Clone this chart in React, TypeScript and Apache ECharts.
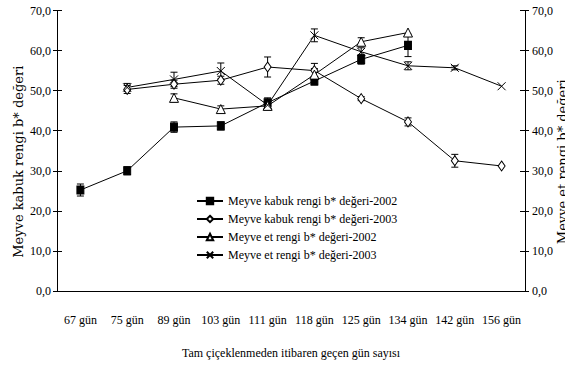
import React, { useEffect, useRef } from "react";
import * as echarts from "echarts";

const categories = ["67 gün", "75 gün", "89 gün", "103 gün", "111 gün", "118 gün", "125 gün", "134 gün", "142 gün", "156 gün"];

const seriesNames = [
  "Meyve kabuk rengi b* değeri-2002",
  "Meyve kabuk rengi b* değeri-2003",
  "Meyve et rengi b* değeri-2002",
  "Meyve et rengi b* değeri-2003",
];

const kabuk2002 = [25.2, 30.0, 40.9, 41.2, 47.0, 52.4, 57.8, 61.3, null, null];
const kabuk2003 = [null, 50.3, 51.6, 52.6, 55.9, 55.0, 48.0, 42.2, 32.5, 31.2];
const et2002 = [null, null, 48.2, 45.4, 46.2, 54.0, 62.2, 64.5, null, null];
const et2003 = [null, 50.8, 52.8, 54.9, 46.4, 63.8, 59.7, 56.2, 55.7, 51.1];

const kabuk2002Err = [1.5, 1.0, 1.3, 1.0, 1.2, 1.0, 1.2, 2.8, null, null];
const kabuk2003Err = [null, 1.0, 1.0, 1.0, 2.5, 1.8, 0.5, 1.0, 1.6, 0];
const et2002Err = [null, null, 1.0, 0.8, 1.0, 1.5, 1.0, 0, null, null];
const et2003Err = [null, 1.0, 1.8, 2.0, 1.0, 1.6, 1.0, 1.0, 0.5, 0];

const yTicks = { min: 0, max: 70, interval: 10 };

const FONT = "Liberation Serif";

function errData(vals: (number | null)[], errs: (number | null)[]) {
  const out: number[][] = [];
  vals.forEach((v, i) => {
    const e = errs[i];
    if (v != null && e != null && e > 0) out.push([i, v - e, v + e]);
  });
  return out;
}

function errSeries(vals: (number | null)[], errs: (number | null)[]) {
  return {
    type: "custom",
    xAxisIndex: 0,
    yAxisIndex: 0,
    z: 1,
    silent: true,
    data: errData(vals, errs),
    renderItem: (params: any, api: any) => {
      const x = api.value(0);
      const lo = api.coord([x, api.value(1)]);
      const hi = api.coord([x, api.value(2)]);
      const hw = 3.5;
      const style = { stroke: "#000", lineWidth: 1 };
      return {
        type: "group",
        children: [
          { type: "line", shape: { x1: lo[0], y1: lo[1], x2: hi[0], y2: hi[1] }, style },
          { type: "line", shape: { x1: lo[0] - hw, y1: lo[1], x2: lo[0] + hw, y2: lo[1] }, style },
          { type: "line", shape: { x1: hi[0] - hw, y1: hi[1], x2: hi[0] + hw, y2: hi[1] }, style },
        ],
      };
    },
  };
}

function lineSeries(name: string, data: (number | null)[], symbol: string, symbolSize: any, fill: string) {
  return {
    name,
    type: "line",
    xAxisIndex: 0,
    yAxisIndex: 0,
    z: 3,
    data,
    symbol,
    symbolSize,
    showAllSymbol: true,
    connectNulls: false,
    lineStyle: { color: "#000", width: 1 },
    itemStyle: { color: fill, borderColor: "#000", borderWidth: 1 },
  };
}

export default function App() {
  const ref = useRef<HTMLDivElement>(null);
  useEffect(() => {
    if (!ref.current) return;
    const chart = echarts.init(ref.current, null, { renderer: "svg" });
    const fmt = (v: number) => v.toFixed(1).replace(".", ",");
    const labelStyle = { color: "#000", fontFamily: FONT, fontSize: 12 };
    const yBase = {
      type: "value",
      min: yTicks.min,
      max: yTicks.max,
      interval: yTicks.interval,
      splitLine: { show: false },
    };
    chart.setOption({
      animation: false,
      backgroundColor: "#fff",
      grid: { left: 57, right: 40, top: 10.5, bottom: 79, containLabel: false, outerBoundsMode: "none" },
      legend: {
        orient: "vertical",
        left: 191,
        top: 190,
        itemWidth: 26,
        itemHeight: 8,
        itemGap: 6,
        textStyle: { color: "#000", fontFamily: FONT, fontSize: 12 },
        data: seriesNames,
      },
      xAxis: [
        {
          type: "category",
          position: "bottom",
          data: categories,
          boundaryGap: true,
          axisLine: { lineStyle: { color: "#000", width: 1 } },
          axisTick: { length: 4, lineStyle: { color: "#000" } },
          axisLabel: { ...labelStyle, margin: 23, interval: 0 },
          name: "Tam çiçeklenmeden itibaren geçen gün sayısı",
          nameLocation: "middle",
          nameGap: 56,
          nameMoveOverlap: false,
          nameTextStyle: { color: "#000", fontFamily: FONT, fontSize: 12 },
        },
        {
          type: "category",
          position: "bottom",
          data: categories,
          boundaryGap: true,
          axisLine: { show: false },
          axisTick: { inside: true, length: 5, lineStyle: { color: "#000" } },
          axisLabel: { show: false },
        },
      ],
      yAxis: [
        {
          ...yBase,
          position: "left",
          axisLine: { show: true, lineStyle: { color: "#000" } },
          axisTick: { show: true, length: 4, lineStyle: { color: "#000" } },
          axisLabel: { ...labelStyle, margin: 6, formatter: fmt },
          name: "Meyve kabuk rengi b* değeri",
          nameLocation: "middle",
          nameGap: 32,
          nameRotate: 90,
          nameMoveOverlap: false,
          nameTextStyle: { color: "#000", fontFamily: "DejaVu Serif", fontSize: 13, padding: [0, 22, 0, 0] },
        },
        {
          ...yBase,
          position: "right",
          axisLine: { show: true, lineStyle: { color: "#000" } },
          axisTick: { show: true, length: 4, lineStyle: { color: "#000" } },
          axisLabel: { ...labelStyle, margin: 7, formatter: fmt },
          name: "Meyve et rengi b* değeri",
          nameLocation: "middle",
          nameGap: 31,
          nameRotate: 90,
          nameMoveOverlap: false,
          nameTextStyle: { color: "#000", fontFamily: "DejaVu Serif", fontSize: 13, padding: [0, 22, 0, 0] },
        },
        {
          ...yBase,
          position: "left",
          axisLine: { show: false },
          axisTick: { show: true, inside: true, length: 5, lineStyle: { color: "#000" } },
          axisLabel: { show: false },
        },
        {
          ...yBase,
          position: "right",
          axisLine: { show: false },
          axisTick: { show: true, inside: true, length: 5, lineStyle: { color: "#000" } },
          axisLabel: { show: false },
        },
      ],
      series: [
        errSeries(kabuk2002, kabuk2002Err),
        errSeries(kabuk2003, kabuk2003Err),
        errSeries(et2002, et2002Err),
        errSeries(et2003, et2003Err),
        lineSeries(seriesNames[0], kabuk2002, "rect", [7, 8], "#000"),
        lineSeries(seriesNames[1], kabuk2003, "diamond", [7, 10], "#fff"),
        lineSeries(seriesNames[2], et2002, "triangle", [9, 9], "#fff"),
        lineSeries(seriesNames[3], et2003, "path://M0,0L10,10M10,0L0,10", [8, 8], "#000"),
      ],
    });
    return () => chart.dispose();
  }, []);
  return <div ref={ref} style={{ position: "fixed", left: 0, top: 0, width: 565, height: 370 }} />;
}
